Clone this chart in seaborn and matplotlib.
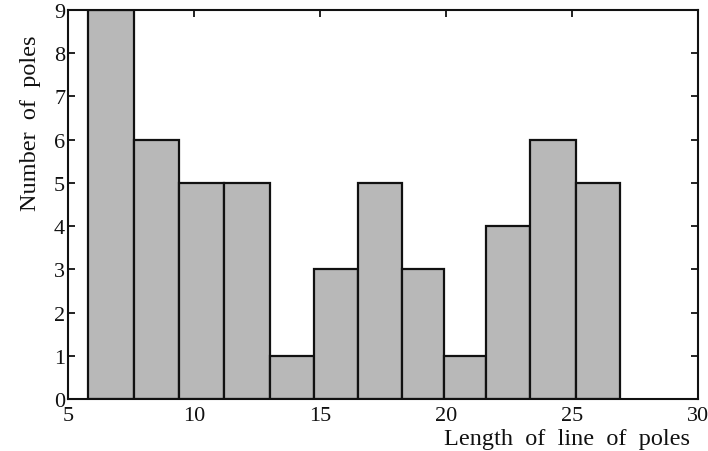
import numpy as np
import pandas as pd
import matplotlib
matplotlib.use("Agg")
import matplotlib.pyplot as plt
import seaborn as sns

# bin edges and counts
bordes = [5.8, 7.6, 9.4, 11.2, 13.0, 14.75, 16.5, 18.25, 19.9, 21.6, 23.35, 25.15, 26.9]
cuentas = [9, 6, 5, 5, 1, 3, 5, 3, 1, 4, 6, 5]

centros = [(bordes[i] + bordes[i + 1]) / 2 for i in range(len(cuentas))]
df = pd.DataFrame({"largo": centros, "n": cuentas})

sns.set_style("ticks")
plt.rcParams["font.family"] = ["Liberation Serif", "DejaVu Serif"]

fig = plt.figure(figsize=(7.08, 4.52), dpi=100)
ax = fig.add_axes([0.096, 0.115, 0.890, 0.861])

sns.histplot(data=df, x="largo", weights="n", bins=bordes, ax=ax,
             color="#b8b8b8", alpha=1, edgecolor="#111111", linewidth=1.6)

ax.set_xlim(5, 30)
ax.set_ylim(0, 9)
ax.set_xticks([5, 10, 15, 20, 25, 30])
ax.set_yticks(range(10))
ax.tick_params(direction="in", top=True, right=True, labelsize=16,
               length=5, width=1.3, colors="#111111")
ax.tick_params(axis="x", pad=5)
ax.tick_params(axis="y", pad=2)
for s in ax.spines.values():
    s.set_linewidth(1.5)
    s.set_color("#111111")

ax.set_xlabel("Length  of  line  of  poles", fontsize=17.5, color="#111111")
ax.xaxis.set_label_coords(0.987, -0.075, transform=ax.transAxes)
ax.xaxis.label.set_horizontalalignment("right")
ax.xaxis.label.set_verticalalignment("top")
ax.set_ylabel("Number  of  poles", fontsize=17.5, color="#111111")
ax.yaxis.label.set_verticalalignment("center")
ax.yaxis.set_label_coords(-0.06, 0.71)

fig.savefig("out.png", dpi=100)
